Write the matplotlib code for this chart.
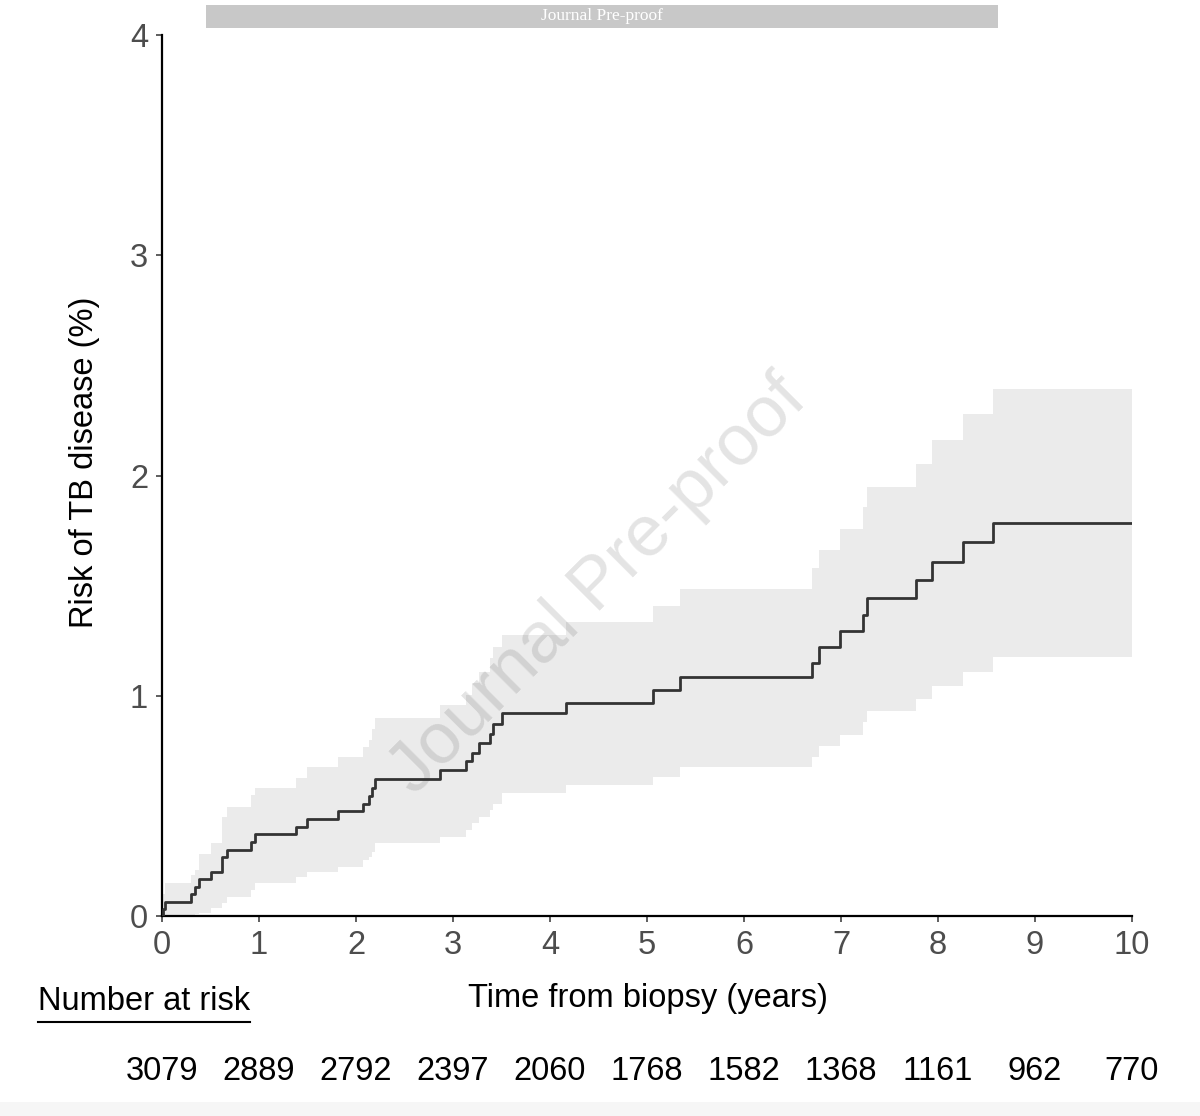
"""Cumulative risk of TB disease after biopsy, with 95% CI band and number at risk."""

import matplotlib

matplotlib.use("Agg")
import matplotlib.pyplot as plt
from matplotlib.lines import Line2D
from matplotlib.patches import Rectangle
from matplotlib.transforms import blended_transform_factory

plt.rcParams["font.family"] = ["Liberation Sans", "DejaVu Sans"]

# step times (years) and cumulative risk (%) with lower / upper CI
times = [0, 0.01, 0.03, 0.296, 0.34, 0.385, 0.505, 0.615, 0.667, 0.918, 0.959, 1.378,
         1.498, 1.811, 2.075, 2.134, 2.165, 2.20, 2.866, 3.129, 3.193, 3.273, 3.381, 3.41,
         3.50, 4.168, 5.059, 5.34, 6.706, 6.771, 6.99, 7.23, 7.265, 7.773, 7.941, 8.258,
         8.57, 10]
risk = [0, 0.03, 0.065, 0.098, 0.133, 0.166, 0.20, 0.266, 0.30, 0.337, 0.372, 0.405,
        0.439, 0.475, 0.51, 0.547, 0.582, 0.62, 0.663, 0.702, 0.742, 0.786, 0.825, 0.87,
        0.92, 0.967, 1.026, 1.083, 1.15, 1.22, 1.294, 1.366, 1.442, 1.525, 1.608, 1.696,
        1.785, 1.785]
upper = [0.0, 0.10, 0.151, 0.185, 0.21, 0.28, 0.33, 0.45, 0.496, 0.55, 0.582, 0.628,
         0.678, 0.723, 0.768, 0.80, 0.85, 0.90, 0.958, 1.003, 1.056, 1.109, 1.171, 1.222,
         1.275, 1.336, 1.407, 1.483, 1.578, 1.664, 1.757, 1.855, 1.949, 2.052, 2.16, 2.277,
         2.395, 2.395]
lower = [0.0, 0.0, 0.0, 0.005, 0.01, 0.015, 0.035, 0.06, 0.088, 0.12, 0.148, 0.178,
         0.20, 0.224, 0.254, 0.27, 0.29, 0.33, 0.36, 0.39, 0.42, 0.45, 0.48, 0.51,
         0.557, 0.595, 0.632, 0.678, 0.723, 0.772, 0.822, 0.882, 0.931, 0.984, 1.044, 1.109,
         1.174, 1.174]

risk_years = list(range(11))
at_risk = [3079, 2889, 2792, 2397, 2060, 1768, 1582, 1368, 1161, 962, 770]

W, H = 1200, 1116
FS = 23.5
fig = plt.figure(figsize=(W / 100, H / 100), dpi=100)
ax = fig.add_axes([162 / W, 1 - 916 / H, (1132 - 162) / W, (916 - 35) / H])

ax.fill_between(times, lower, upper, step="post", color="#ebebeb", linewidth=0, zorder=1)
ax.step(times, risk, where="post", color="#333333", linewidth=2.0, zorder=3)

ax.text(4.5, 1.5, "Journal Pre-proof", rotation=45, rotation_mode="anchor",
        ha="center", va="center", fontsize=52, color="black", alpha=0.11, zorder=2)

ax.set_xlim(0, 10)
ax.set_ylim(0, 4)
ax.set_xticks(risk_years)
ax.set_yticks([0, 1, 2, 3, 4])
for side in ("top", "right"):
    ax.spines[side].set_visible(False)
for side in ("left", "bottom"):
    ax.spines[side].set_linewidth(1.6)
    ax.spines[side].set_color("black")
ax.tick_params(length=4, width=1.1, color="#333333", labelsize=FS,
               labelcolor="#4d4d4d", pad=6)

fig.text(85 / W, 1 - 462 / H, "Risk of TB disease (%)", rotation=90,
         ha="center", va="center", fontsize=FS)
fig.text(648 / W, 1 - 998 / H, "Time from biopsy (years)",
         ha="center", va="center", fontsize=FS)

fig.text(38 / W, 1 - 1002 / H, "Number at risk", ha="left", va="center", fontsize=FS)
fig.add_artist(Line2D([38 / W, 250 / W], [1 - 1022 / H] * 2, color="black", linewidth=1.5))

trans = blended_transform_factory(ax.transData, fig.transFigure)
for yr, n in zip(risk_years, at_risk):
    ax.text(yr, 1 - 1072 / H, str(n), transform=trans, ha="center", va="center",
            fontsize=FS, clip_on=False)

# pre-proof banner at the top
fig.add_artist(Rectangle((206 / W, 1 - 28 / H), (998 - 206) / W, 23 / H,
                         transform=fig.transFigure, facecolor="#c8c8c8", edgecolor="none"))
fig.text(602 / W, 1 - 16.5 / H, "Journal Pre-proof", ha="center", va="center",
         fontsize=12.5, color="white", family=["Liberation Serif", "DejaVu Serif"])

fig.add_artist(Rectangle((0, 0), 1, 14 / H, transform=fig.transFigure,
                         facecolor="#f6f6f6", edgecolor="none"))

fig.savefig("out.png", dpi=100)
